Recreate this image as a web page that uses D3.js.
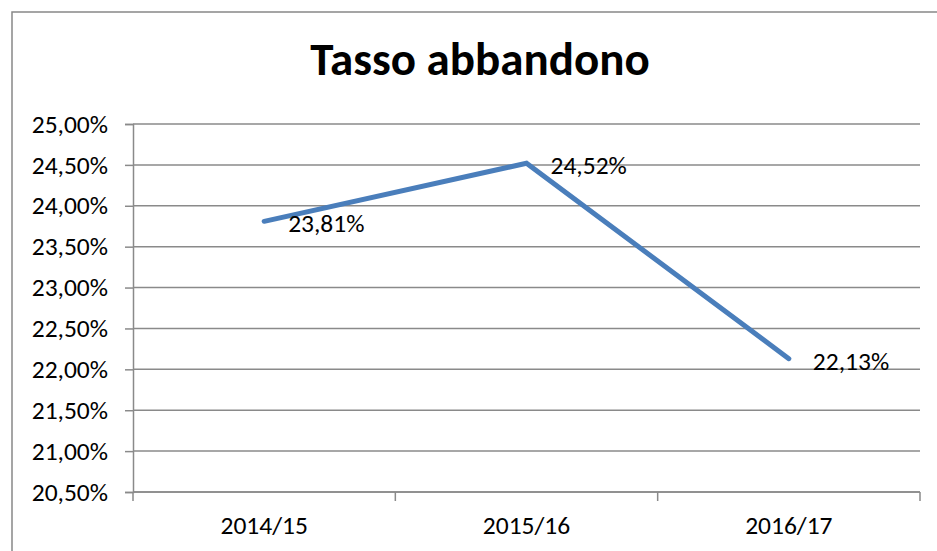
<!DOCTYPE html>
<html lang="it">
<head>
<meta charset="utf-8">
<style>
  body { margin: 0; background: #fff; }
  svg text { font-family: Carlito, Lato, "Liberation Sans", sans-serif; fill: #000; }
</style>
</head>
<body>
<svg width="937" height="551"></svg>
<script src="https://d3js.org/d3.v7.min.js"></script>
<script>
// chart data
var years = ["2014/15", "2015/16", "2016/17"];
var rates = [23.81, 24.52, 22.13];
var yTicks = [20.5, 21, 21.5, 22, 22.5, 23, 23.5, 24, 24.5, 25];
var title = "Tasso abbandono";

var svg = d3.select("svg"),
    margin = { top: 124, right: 17, bottom: 59, left: 133 },
    width = +svg.attr("width") - margin.left - margin.right,
    height = +svg.attr("height") - margin.top - margin.bottom;

// italian number format: 25,00%
var it = d3.formatLocale({ decimal: ",", thousands: ".", grouping: [3], currency: ["€", ""] });
var fmt = function(v) { return it.format(".2f")(v) + "%"; };

// outer frame (runs off the right and bottom edge like the screenshot)
svg.append("rect")
    .attr("x", 12).attr("y", 12)
    .attr("width", 960).attr("height", 600)
    .attr("fill", "none")
    .attr("stroke", "#888").attr("stroke-width", 1.5);

svg.append("text")
    .attr("x", 480).attr("y", 75)
    .attr("text-anchor", "middle")
    .attr("font-size", 47)
    .attr("font-weight", "bold")
    .text(title);

var x = d3.scaleBand().domain(years).range([0, width]),
    y = d3.scaleLinear().domain([20.5, 25]).range([height, 0]);

var g = svg.append("g")
    .attr("transform", "translate(" + margin.left + "," + margin.top + ")");

// gridlines
g.append("g")
    .selectAll("line")
    .data(yTicks)
    .enter().append("line")
    .attr("x1", 0).attr("x2", width)
    .attr("y1", function(d) { return y(d); })
    .attr("y2", function(d) { return y(d); })
    .attr("stroke", "#8a8a8a").attr("stroke-width", 1.5);

// y axis
var yAxis = g.append("g")
    .call(d3.axisLeft(y).tickValues(yTicks).tickSize(8).tickPadding(17).tickFormat(fmt));
yAxis.select(".domain").attr("stroke", "#8a8a8a").attr("stroke-width", 1.5);
yAxis.selectAll(".tick line").attr("stroke", "#8a8a8a").attr("stroke-width", 1.5);
yAxis.selectAll(".tick text").attr("font-size", 25.5).attr("font-family", null);

// x axis, ticks on band edges
var xAxis = g.append("g")
    .attr("transform", "translate(0," + height + ")")
    .call(d3.axisBottom(x).tickSize(0).tickPadding(24));
xAxis.select(".domain").remove();
xAxis.selectAll(".tick text").attr("font-size", 25.5).attr("font-family", null);
xAxis.append("line")
    .attr("x1", 0).attr("x2", width)
    .attr("stroke", "#8a8a8a").attr("stroke-width", 1.5);
xAxis.selectAll(".edge")
    .data(years.concat(["end"]))
    .enter().append("line")
    .attr("class", "edge")
    .attr("x1", function(d, i) { return i < years.length ? x(d) : width; })
    .attr("x2", function(d, i) { return i < years.length ? x(d) : width; })
    .attr("y1", 0).attr("y2", 9)
    .attr("stroke", "#8a8a8a").attr("stroke-width", 1.5);

// the line
var line = d3.line()
    .x(function(d, i) { return x(years[i]) + x.bandwidth() / 2; })
    .y(function(d) { return y(d); });

g.append("path")
    .datum(rates)
    .attr("d", line)
    .attr("fill", "none")
    .attr("stroke", "#4a7ebb")
    .attr("stroke-width", 5)
    .attr("stroke-linecap", "round")
    .attr("stroke-linejoin", "miter");

// value labels to the right of each point
g.selectAll(".lbl")
    .data(rates)
    .enter().append("text")
    .attr("class", "lbl")
    .attr("x", function(d, i) { return x(years[i]) + x.bandwidth() / 2 + 24; })
    .attr("y", function(d) { return y(d) + 3; })
    .attr("dy", "0.32em")
    .attr("font-size", 25.5)
    .text(fmt);
</script>
</body>
</html>
